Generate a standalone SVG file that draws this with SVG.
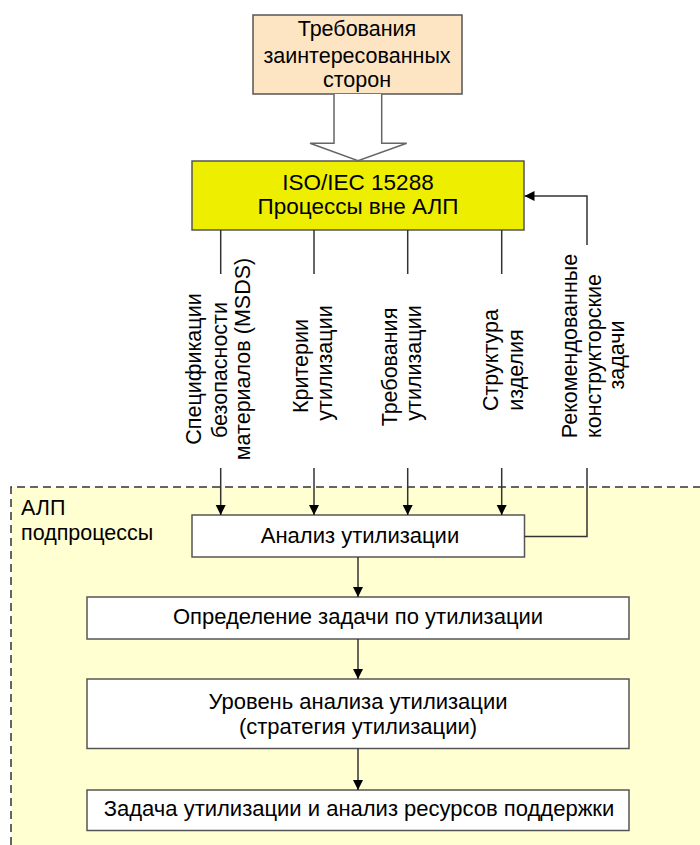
<svg xmlns="http://www.w3.org/2000/svg" width="700" height="845" viewBox="0 0 700 845">
<defs>
<style>
text{font-family:"Liberation Sans",Arial,sans-serif;font-size:21.5px;fill:#000}
.c{text-anchor:middle}
.b{font-size:22px}
.i{font-size:22.5px}
.box{fill:#fff;stroke:#555;stroke-width:1.5}
.ln{fill:none;stroke:#333;stroke-width:1.5}
</style>
<marker id="ah" markerWidth="10" markerHeight="12" refX="10" refY="5" orient="auto" markerUnits="userSpaceOnUse" viewBox="0 0 10 10">
<path d="M0,0 L10,5 L0,10 Z" fill="#000"/>
</marker>
</defs>
<rect width="700" height="845" fill="#fff"/>
<g id="alp-region">
<path d="M11,845 V487 H700 V845" fill="#ffffd2"/>
<path d="M11,845 V487 H700" fill="none" stroke="#333" stroke-width="1.5" stroke-dasharray="8,5"/>
<text x="21" y="515">АЛП</text>
<text x="21" y="540">подпроцессы</text>
</g>
<g id="stakeholders">
<rect x="253" y="15" width="209" height="79" fill="#fde4c3" stroke="#555" stroke-width="1.5"/>
<text class="c" x="357" y="36">Требования</text>
<text class="c" x="357" y="63">заинтересованных</text>
<text class="c" x="357" y="87">сторон</text>
</g>
<g id="iso">
<rect x="192" y="161" width="332" height="69" fill="#eeee00" stroke="#555" stroke-width="1.5"/>
<text class="c i" x="358" y="190">ISO/IEC 15288</text>
<text class="c i" x="358" y="214">Процессы вне АЛП</text>
</g>
<g id="analysis">
<rect class="box" x="192" y="515" width="332.5" height="42"/>
<text class="c b" x="360" y="543">Анализ утилизации</text>
</g>
<g id="definition">
<rect class="box" x="87" y="597" width="542" height="42"/>
<text class="c b" x="358" y="624">Определение задачи по утилизации</text>
</g>
<g id="level">
<rect class="box" x="87" y="679" width="542" height="69.5"/>
<text class="c b" x="358" y="709">Уровень анализа утилизации</text>
<text class="c b" x="358" y="734">(стратегия утилизации)</text>
</g>
<g id="task">
<rect class="box" x="87" y="790" width="542" height="40.5"/>
<text class="c b" x="359" y="816">Задача утилизации и анализ ресурсов поддержки</text>
</g>
<g id="labels">
<text class="c" transform="translate(201,369) rotate(-90)">Спецификации</text>
<text class="c" transform="translate(227,370) rotate(-90)">безопасности</text>
<text class="c" transform="translate(250,359) rotate(-90)">материалов (MSDS)</text>
<text class="c" transform="translate(308,366) rotate(-90)">Критерии</text>
<text class="c" transform="translate(332,363) rotate(-90)">утилизации</text>
<text class="c" transform="translate(396.5,367) rotate(-90)">Требования</text>
<text class="c" transform="translate(421,363) rotate(-90)">утилизации</text>
<text class="c" transform="translate(498,360) rotate(-90)">Структура</text>
<text class="c" transform="translate(523,370) rotate(-90)">изделия</text>
<text class="c" transform="translate(576.5,346) rotate(-90)">Рекомендованные</text>
<text class="c" transform="translate(601,356) rotate(-90)">конструкторские</text>
<text class="c" transform="translate(624,355) rotate(-90)">задачи</text>
</g>
<g id="connectors">
<path d="M334,94 V143.3 H310 L358,160.7 L406.7,143.3 H381.7 V94" fill="#fff" stroke="#666" stroke-width="1.5"/>
<path class="ln" d="M220.7,230 V274"/>
<path class="ln" d="M314,230 V274"/>
<path class="ln" d="M407.7,230 V274"/>
<path class="ln" d="M501.7,230 V274"/>
<path class="ln" d="M220.7,468 V515" marker-end="url(#ah)"/>
<path class="ln" d="M314,468 V515" marker-end="url(#ah)"/>
<path class="ln" d="M407.7,468 V515" marker-end="url(#ah)"/>
<path class="ln" d="M501.7,468 V515" marker-end="url(#ah)"/>
<path class="ln" d="M587,245 V196 H524.5" marker-end="url(#ah)"/>
<path class="ln" d="M524.5,536.5 H587 V468"/>
<path class="ln" d="M358,557 V597" marker-end="url(#ah)"/>
<path class="ln" d="M358,639 V679" marker-end="url(#ah)"/>
<path class="ln" d="M358,748.5 V790" marker-end="url(#ah)"/>
</g>
</svg>
